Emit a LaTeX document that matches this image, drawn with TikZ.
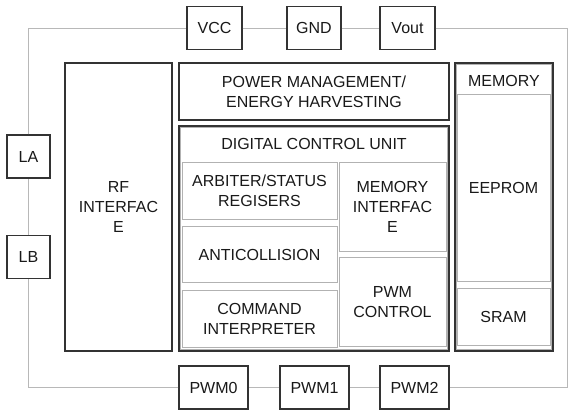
\documentclass[tikz,border=0pt]{standalone}
\usepackage{fontspec}
\setmainfont{Liberation Sans}
\usetikzlibrary{positioning}

\begin{document}
\begin{tikzpicture}[x=1pt, y=-1pt,
    font=\fontsize{16}{20}\selectfont, text=black!90,
    pin/.style={draw=black!80, line width=1.2pt, fill=white,
                minimum height=43pt, inner sep=0pt},
    block/.style={draw=black!80, line width=1.4pt, align=center, inner sep=0pt},
    part/.style={draw=black!30, line width=0.8pt, align=center, inner sep=0pt},
    wire/.style={draw=black!28, line width=0.8pt}]

\useasboundingbox (0,0) rectangle (576,416);

% -----------------------------------------------------
%  pins round the chip
% -----------------------------------------------------
\node[pin, minimum width=55pt] (vcc)  at (214.5,28) {VCC};
\node[pin, minimum width=54pt] (gnd)  at (314,28)   {GND};
\node[pin, minimum width=55pt] (vout) at (407.5,28) {Vout};

\node[pin, minimum width=43pt] (la) at (28.5,156.5) {LA};
\node[pin, minimum width=43pt] (lb) at (28.5,257)   {LB};

\node[pin, minimum width=69pt] (pwm0) at (213.5,387.5) {PWM0};
\node[pin, minimum width=69pt] (pwm1) at (314.5,387.5) {PWM1};
\node[pin, minimum width=69pt] (pwm2) at (414.5,387.5) {PWM2};

% Corners of the pin ring
\coordinate (c1) at (28.5,28);
\coordinate (c2) at (567,28);
\coordinate (c3) at (567,387.5);
\coordinate (c4) at (28.5,387.5);

\draw[wire] (c1) -- (vcc) -- (gnd) -- (vout) -- (c2) -- (c3)
            -- (pwm2) -- (pwm1) -- (pwm0) -- (c4) -- (lb) -- (la) -- (c1);

% -----------------------------------------------------
%  main blocks
% -----------------------------------------------------
\node[block, minimum width=107pt, minimum height=288pt] (rf) at (118.5,207)
      {RF\\INTERFAC\\E};

\node[block, minimum width=270pt, minimum height=57pt] (pwr) at (314,91.5)
      {POWER MANAGEMENT/\\ENERGY HARVESTING};

\node[block, minimum width=270pt, minimum height=225pt] (dcu) at (314,238.5) {};
\draw[part] ([shift={(2,2)}]dcu.north west) rectangle ([shift={(-2,-2)}]dcu.south east);
\node (dcutitle) at (314,143.5) {DIGITAL CONTROL UNIT};

\node[block, minimum width=98pt, minimum height=288pt] (mem) at (504,207) {};
\draw[part] ([shift={(2,2)}]mem.north west) rectangle ([shift={(-2,-2)}]mem.south east);
\node (memtitle) at (504,80.5) {MEMORY};

% -----------------------------------------------------
%  inside the digital control unit
% -----------------------------------------------------
\node[part, minimum width=155pt, minimum height=57pt] (arb) at (259.5,190.5)
      {ARBITER/STATUS\\REGISERS};
\node[part, minimum width=155pt, minimum height=56pt, below=7pt of arb] (anti)
      {ANTICOLLISION};
\node[part, minimum width=155pt, minimum height=57pt, below=7pt of anti] (cmd)
      {COMMAND\\INTERPRETER};

\node[part, minimum width=107pt, minimum height=89pt] (memif) at (392.5,206.5)
      {MEMORY\\INTERFAC\\E};
\node[part, minimum width=107pt, minimum height=89pt, below=6pt of memif] (pwmc)
      {PWM\\CONTROL};

% -----------------------------------------------------
%  inside the memory
% -----------------------------------------------------
\node[part, minimum width=93pt, minimum height=187pt] (eeprom) at (503.5,187.5)
      {EEPROM};
\node[part, minimum width=93pt, minimum height=57pt, below=7pt of eeprom] (sram)
      {SRAM};

\end{tikzpicture}
\end{document}
